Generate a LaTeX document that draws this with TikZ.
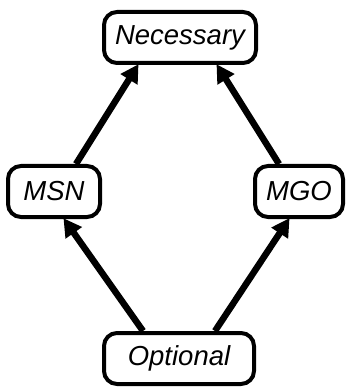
\documentclass[tikz,border=0pt]{standalone}
\usepackage{fontspec}
\setmainfont{Liberation Sans}
\usetikzlibrary{arrows.meta}
\begin{document}
\begin{tikzpicture}[x=1pt,y=-1pt,
  box/.style={draw, line width=4pt, rounded corners=13pt, fill=white,
    minimum height=51pt, inner sep=0pt, font=\fontsize{27.5}{32}\selectfont\itshape},
  link/.style={line width=6.5pt, -{Triangle[length=18pt,width=19pt]}, shorten >=-1pt}]
\useasboundingbox (0,0) rectangle (347,387);
\node[box, minimum width=152pt] (nec) at (180,37.5) {Necessary};
\node[box, minimum width=92pt] (msn) at (54,191.5) {MSN};
\node[box, minimum width=88pt] (mgo) at (299,191.5) {MGO};
\node[box, minimum width=150pt] (opt) at (179,358.5) {Optional};
\draw[link] ([xshift=22pt]msn.north) -- ([xshift=-42pt]nec.south);
\draw[link] ([xshift=-20pt]mgo.north) -- ([xshift=37pt]nec.south);
\draw[link] ([xshift=-36pt]opt.north) -- ([xshift=10pt]msn.south);
\draw[link] ([xshift=36pt]opt.north) -- ([xshift=-10pt]mgo.south);
\end{tikzpicture}
\end{document}
